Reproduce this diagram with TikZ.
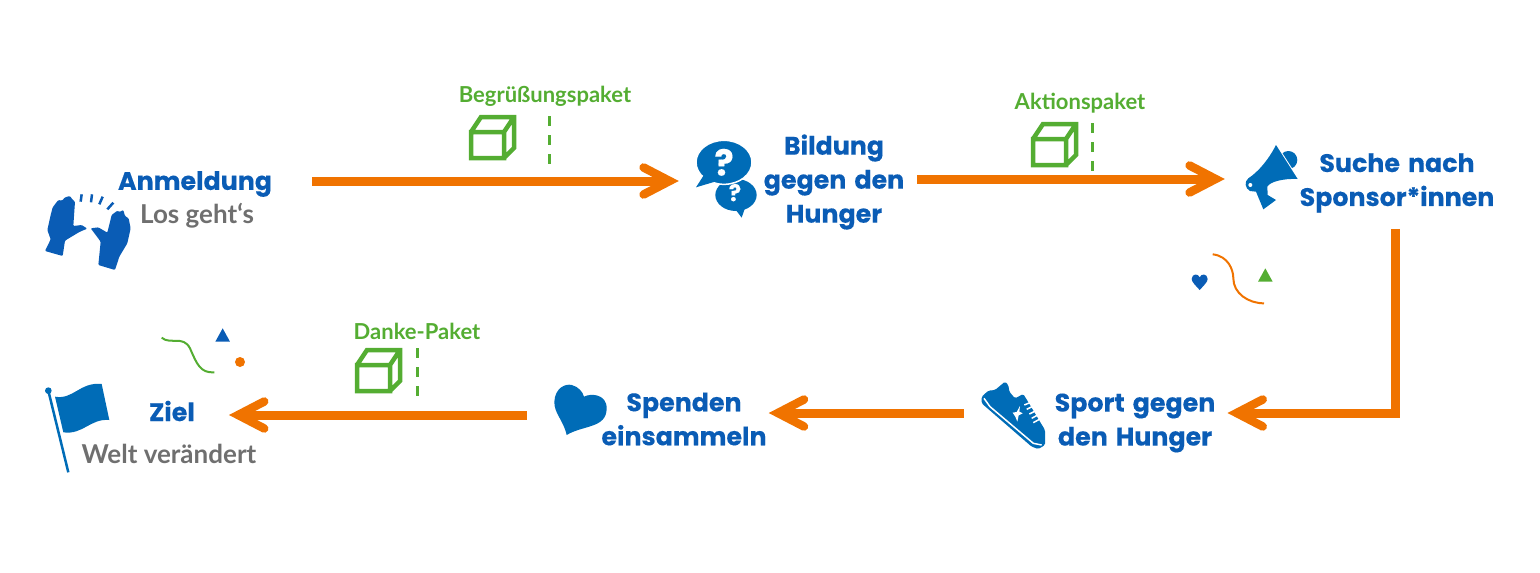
\documentclass[tikz,border=0pt]{standalone}
\usepackage{fontspec}
\setmainfont{Lato}
\newfontfamily\headfont[BoldFeatures={FakeBold=0.25}, WordSpace=1.5]{Poppins}
\usetikzlibrary{arrows.meta}
\definecolor{hgblue}{HTML}{0A5CB5}
\definecolor{hgicon}{HTML}{006CB7}
\definecolor{hgorange}{HTML}{F07300}
\definecolor{hggreen}{HTML}{54AD32}
\definecolor{hggray}{HTML}{6F6F6F}
\tikzset{
  head/.style={inner sep=0pt, align=center, text=hgblue, font=\headfont\bfseries\fontsize{25.3}{34}\selectfont},
  sub/.style={inner sep=0pt, text=hggray, font=\bfseries\fontsize{26}{30}\selectfont},
  paket/.style={inner sep=0pt, text=hggreen, font=\bfseries\fontsize{22}{26}\selectfont},
  iconbox/.style={inner sep=0pt, minimum width=60pt, minimum height=60pt},
  pfeil/.style={draw=hgorange, line width=9pt, line join=miter,
    -{Straight Barb[length=26pt, width=27pt, line width=8.5pt, line cap=round, line join=miter]}},
  strich/.style={draw=hggreen, line width=3pt, dash pattern=on 10pt off 9pt},
  kiste/.pic={
    \draw[hggreen, line width=4.5pt, line join=miter]
      (0,15) rectangle (33,41)
      (0,15) -- (10,0) -- (43,0) -- (43,31) -- (33,41)
      (33,15) -- (43,0);
  }
}

\begin{document}
\begin{tikzpicture}[x=1pt, y=-1pt]
\useasboundingbox (0,0) rectangle (1540,573);

\node[head] (anmeldung) at (195,184) {Anmeldung};
\node[sub] (losgehts) at (197,216) {Los geht‘s};
\node[head] (bildung) at (834,182) {Bildung\\gegen den\\Hunger};
\node[head] (suche) at (1397,183) {Suche nach\\Sponsor*innen};
\node[head] (sport) at (1135,423) {Sport gegen\\den Hunger};
\node[head] (spenden) at (684,419) {Spenden\\einsammeln};
\node[head] (ziel) at (172,411) {Ziel};
\node[sub] (weltveraendert) at (169,454) {Welt verändert};

\node[paket] (begruessung) at (545,96) {Begrüßungspaket};
\node[paket] (aktion) at (1080,103) {Aktionspaket};
\node[paket] (danke) at (417,331) {Danke-Paket};

\node[iconbox] (fragen) at (727,181) {};
\node[iconbox] (megafon) at (1275,179) {};
\node[iconbox] (schuh) at (1012,413) {};
\node[iconbox] (herz) at (584,415) {};

\pic at (471,117) {kiste};
\pic at (1033,124) {kiste};
\pic at (357,350) {kiste};
\coordinate (strich1) at (549.5,116);
\coordinate (strich2) at (1092,123);
\coordinate (strich3) at (417,348);
\draw[strich] (strich1) -- +(0,49);
\draw[strich] (strich2) -- +(0,49);
\draw[strich] (strich3) -- +(0,49);

\draw[pfeil, shorten <=40pt, shorten >=18pt] ([yshift=3pt]anmeldung.east) -- (fragen.west);
\draw[pfeil, shorten <=13pt, shorten >=20pt] ([yshift=3pt]bildung.east) -- (megafon.west);
\draw[pfeil, shorten <=16pt, shorten >=12pt] ([xshift=-2pt]suche.south) |- ([yshift=10pt]sport.east);
\draw[pfeil, shorten <=18pt, shorten >=2pt] (schuh.west) -- ([yshift=6pt]spenden.east);
\draw[pfeil, shorten <=27pt, shorten >=34pt] (herz.west) -- ([yshift=-4pt]ziel.east);

% haende
\begin{scope}[shift={(30,150)}, scale=1/3]
\fill[hgblue, rounded corners=1pt] (45,303) -- (62,268) -- (52,240) -- (62,195) -- (68,172) -- (85,150) -- (96,152) -- (105,142) -- (120,138) -- (127,148) -- (135,155) -- (130,228) -- (155,225) -- (172,236) -- (150,245) -- (128,258) -- (105,272) -- (98,318) -- cycle;
\fill[hgblue, rounded corners=1pt] (205,345) -- (255,360) -- (268,320) -- (292,280) -- (302,235) -- (296,205) -- (285,198) -- (280,180) -- (268,186) -- (262,182) -- (245,195) -- (232,248) -- (205,232) -- (182,235) -- (195,252) -- (212,275) -- cycle;
\draw[hgblue, line width=2.5pt] (155,133) -- (152,155) (186,133) -- (183,157) (218,140) -- (208,163) (250,158) -- (232,178);
\end{scope}

% sprechblasen
\begin{scope}[shift={(440,70)}, scale=1/3]
\fill[hgicon] (888,375) ellipse [x radius=62, y radius=48];
\fill[hgicon] (880,410) -- (905,443) -- (918,405) -- cycle;
\node[inner sep=0pt, text=white, font=\headfont\bfseries\fontsize{23}{23}\selectfont] (frage2) at (885,368) {?};
\draw[white, line width=1.5pt, fill=hgicon] (852,277) ellipse [x radius=84, y radius=66];
\fill[hgicon] (795,310) -- (768,352) -- (835,332) -- cycle;
\node[inner sep=0pt, text=white, font=\headfont\bfseries\fontsize{36}{36}\selectfont] (frage1) at (852,277) {?};
\end{scope}

% megafon
\begin{scope}[shift={(1170,130)}, scale=1/3]
\fill[hgicon] (355,90) circle [radius=27];
\draw[white, line width=2pt] (300,17) -- (401,175);
\fill[hgicon] (318,45) -- (383,147) .. controls (340,145) and (300,155) .. (292,170) -- (293,195) -- (318,210) -- (280,238) -- (258,185) -- (240,183) .. controls (225,175) and (222,155) .. (235,145) .. controls (265,125) and (295,90) .. cycle;
\fill[white] (241,165) circle [radius=6];
\end{scope}

% schuh
\begin{scope}[shift={(970,370)}, scale=1/3]
\fill[hgicon, rounded corners=1.5pt] (35,80) -- (55,62) -- (75,60) -- (105,35) -- (115,45) -- (118,65) -- (135,85) -- (160,72) -- (225,180) -- (225,225) -- (205,237) -- (185,230) -- (35,100) -- cycle;
\draw[white, line width=1.5pt] (42,85) -- (60,110) -- (190,220) -- (215,225);
\draw[white, line width=1.5pt] (163,105) -- (182,97) (170,118) -- (190,108) (178,132) -- (198,122) (185,145) -- (203,135) (190,158) -- (208,148);
\fill[white] (150,108) -- (148,125) -- (158,130) -- (146,136) -- (142,155) -- (136,140) -- (128,128) -- (140,126) -- cycle;
\end{scope}

% herz
\begin{scope}[shift={(540,370)}, scale=1/3]
\fill[hgicon] (80,195) .. controls (70,150) and (42,130) .. (43,95) .. controls (45,55) and (75,40) .. (95,45) .. controls (115,50) and (128,65) .. (132,80) .. controls (150,70) and (200,70) .. (200,115) .. controls (200,175) and (130,165) .. (80,195) -- cycle;
\end{scope}

% fahne
\begin{scope}[shift={(30,310)}, scale=1/3]
\draw[hgicon, line width=2.5pt] (55,242) -- (115,487);
\fill[hgicon] (55,242) circle [radius=10];
\fill[hgicon] (75,260) .. controls (130,270) and (150,215) .. (215,222) -- (238,330) .. controls (180,325) and (160,375) .. (100,367) -- cycle;
\draw[hggreen, line width=2pt] (395,83) .. controls (420,105) and (460,75) .. (480,115) .. controls (500,160) and (510,190) .. (553,187);
\fill[hgblue] (556,95) -- (600,95) -- (578,55) -- cycle;
\fill[hgorange] (630,156) circle [radius=15];
\end{scope}

% schmuck bei sponsor
\begin{scope}[shift={(1170,130)}, scale=1/3]
\draw[hgorange, line width=2pt] (128,373) .. controls (175,378) and (190,420) .. (190,445) .. controls (190,490) and (235,520) .. (282,520);
\fill[hggreen] (264,455) -- (308,455) -- (286,415) -- cycle;
\fill[hgblue] (89,480) .. controls (80,470) and (64,455) .. (65,447) .. controls (66,430) and (85,430) .. (89,442) .. controls (93,430) and (112,430) .. (113,447) .. controls (114,455) and (98,470) .. (89,480) -- cycle;
\end{scope}

\end{tikzpicture}
\end{document}
